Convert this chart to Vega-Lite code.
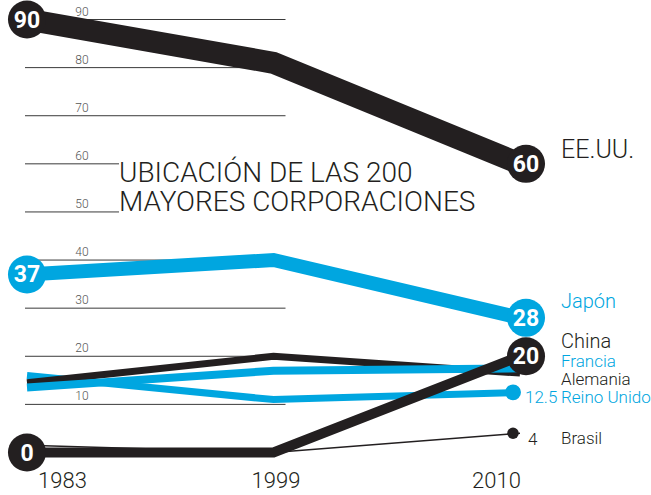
{
  "$schema": "https://vega.github.io/schema/vega-lite/v6.json",
  "width": 651,
  "height": 495,
  "autosize": {"type": "none"},
  "padding": 0,
  "background": "white",
  "config": {"view": {"stroke": null}, "font": "Roboto"},
  "title": {
    "text": ["UBICACIÓN DE LAS 200", "MAYORES CORPORACIONES"],
    "orient": "top",
    "anchor": "start",
    "frame": "group",
    "offset": 0,
    "dx": 119,
    "dy": 263,
    "baseline": "alphabetic",
    "lineHeight": 29,
    "font": "Roboto",
    "fontSize": 28,
    "fontWeight": 300,
    "color": "#231f20"
  },
  "datasets": {
    "series": [
      {"country": "Brasil", "year": 1983, "value": 1.5},
      {"country": "Brasil", "year": 1999, "value": 0},
      {"country": "Brasil", "year": 2010, "value": 4},
      {"country": "Reino Unido", "year": 1983, "value": 16},
      {"country": "Reino Unido", "year": 1999, "value": 11},
      {"country": "Reino Unido", "year": 2010, "value": 12.5},
      {"country": "Alemania", "year": 1983, "value": 14.5},
      {"country": "Alemania", "year": 1999, "value": 20},
      {"country": "Alemania", "year": 2010, "value": 16.5},
      {"country": "Francia", "year": 1983, "value": 13.5},
      {"country": "Francia", "year": 1999, "value": 17},
      {"country": "Francia", "year": 2010, "value": 17.5},
      {"country": "China", "year": 1983, "value": 0},
      {"country": "China", "year": 1999, "value": 0},
      {"country": "China", "year": 2010, "value": 20},
      {"country": "Japón", "year": 1983, "value": 37},
      {"country": "Japón", "year": 1999, "value": 40},
      {"country": "Japón", "year": 2010, "value": 28},
      {"country": "EE.UU.", "year": 1983, "value": 90},
      {"country": "EE.UU.", "year": 1999, "value": 81},
      {"country": "EE.UU.", "year": 2010, "value": 60}
    ],
    "grid": [
      {"v": 10}, {"v": 20}, {"v": 30}, {"v": 40}, {"v": 50},
      {"v": 60}, {"v": 70}, {"v": 80}, {"v": 90}
    ]
  },
  "layer": [
    {
      "data": {"name": "grid"},
      "transform": [{"filter": "datum.v != 50 && datum.v != 60"}],
      "mark": {"type": "rule", "color": "#3a3a3a", "strokeWidth": 1, "xOffset": -2, "x2Offset": 12},
      "encoding": {
        "x": {"datum": 1983, "type": "ordinal", "scale": {"type": "point", "range": [27, 520], "padding": 0},
          "axis": {"orient": "bottom", "domain": false, "ticks": false, "tickSize": 0, "grid": false, "title": null,
            "labelAngle": 0, "labelFont": "Roboto", "labelFontSize": 22, "labelFontWeight": 300, "labelColor": "#231f20",
            "labelBaseline": "alphabetic", "labelPadding": 0, "offset": -8,
            "labelOffset": {"expr": "datum.value == 1983 ? 35 : datum.value == 2010 ? -24 : 2"}}},
        "x2": {"datum": 1999},
        "y": {"field": "v", "type": "quantitative", "scale": {"domain": [0, 90], "range": [452.5, 19.5]}, "axis": null}
      }
    },
    {
      "data": {"name": "grid"},
      "transform": [{"filter": "datum.v == 50 || datum.v == 60"}],
      "mark": {"type": "rule", "color": "#3a3a3a", "strokeWidth": 1, "xOffset": -2, "x2Offset": 92},
      "encoding": {
        "x": {"datum": 1983, "type": "ordinal"},
        "x2": {"datum": 1983},
        "y": {"field": "v", "type": "quantitative", "scale": {"domain": [0, 90], "range": [452.5, 19.5]}, "axis": null}
      }
    },
    {
      "data": {"name": "grid"},
      "mark": {"type": "text", "align": "center", "baseline": "alphabetic", "dx": 55, "dy": -4, "fontSize": 12, "fontWeight": 300, "font": "Roboto", "color": "#555555"},
      "encoding": {
        "x": {"datum": 1983, "type": "ordinal"},
        "y": {"field": "v", "type": "quantitative", "scale": {"domain": [0, 90], "range": [452.5, 19.5]}, "axis": null},
        "text": {"field": "v", "type": "quantitative"}
      }
    },
    {
      "data": {"name": "series"},
      "transform": [{"filter": "datum.country == 'Brasil'"}],
      "mark": {"type": "line", "strokeJoin": "miter", "strokeCap": "butt", "strokeWidth": 1.5, "color": "#231f20"},
      "encoding": {
        "x": {"field": "year", "type": "ordinal"},
        "y": {"field": "value", "type": "quantitative", "scale": {"domain": [0, 90], "range": [452.5, 19.5]}, "axis": null}
      }
    },
    {
      "data": {"name": "series"},
      "transform": [{"filter": "datum.country == 'Reino Unido'"}],
      "mark": {"type": "line", "strokeJoin": "miter", "strokeCap": "butt", "strokeWidth": 7, "color": "#00a6e0"},
      "encoding": {
        "x": {"field": "year", "type": "ordinal"},
        "y": {"field": "value", "type": "quantitative", "scale": {"domain": [0, 90], "range": [452.5, 19.5]}, "axis": null}
      }
    },
    {
      "data": {"name": "series"},
      "transform": [{"filter": "datum.country == 'Alemania'"}],
      "mark": {"type": "line", "strokeJoin": "miter", "strokeCap": "butt", "strokeWidth": 7, "color": "#231f20"},
      "encoding": {
        "x": {"field": "year", "type": "ordinal"},
        "y": {"field": "value", "type": "quantitative", "scale": {"domain": [0, 90], "range": [452.5, 19.5]}, "axis": null}
      }
    },
    {
      "data": {"name": "series"},
      "transform": [{"filter": "datum.country == 'Francia'"}],
      "mark": {"type": "line", "strokeJoin": "miter", "strokeCap": "butt", "strokeWidth": 8, "color": "#00a6e0"},
      "encoding": {
        "x": {"field": "year", "type": "ordinal"},
        "y": {"field": "value", "type": "quantitative", "scale": {"domain": [0, 90], "range": [452.5, 19.5]}, "axis": null}
      }
    },
    {
      "data": {"name": "series"},
      "transform": [{"filter": "datum.country == 'China'"}],
      "mark": {"type": "line", "strokeJoin": "miter", "strokeCap": "butt", "strokeWidth": 10, "color": "#231f20"},
      "encoding": {
        "x": {"field": "year", "type": "ordinal"},
        "y": {"field": "value", "type": "quantitative", "scale": {"domain": [0, 90], "range": [452.5, 19.5]}, "axis": null}
      }
    },
    {
      "data": {"name": "series"},
      "transform": [{"filter": "datum.country == 'Japón'"}],
      "mark": {"type": "line", "strokeJoin": "miter", "strokeCap": "butt", "strokeWidth": 14, "color": "#00a6e0"},
      "encoding": {
        "x": {"field": "year", "type": "ordinal"},
        "y": {"field": "value", "type": "quantitative", "scale": {"domain": [0, 90], "range": [452.5, 19.5]}, "axis": null}
      }
    },
    {
      "data": {"name": "series"},
      "transform": [{"filter": "datum.country == 'EE.UU.'"}],
      "mark": {"type": "line", "strokeJoin": "miter", "strokeCap": "butt", "strokeWidth": 22, "color": "#231f20"},
      "encoding": {
        "x": {"field": "year", "type": "ordinal"},
        "y": {"field": "value", "type": "quantitative", "scale": {"domain": [0, 90], "range": [452.5, 19.5]}, "axis": null}
      }
    },
    {
      "data": {"name": "series"},
      "transform": [{"filter": "(datum.country == 'EE.UU.' || datum.country == 'Japón' || datum.country == 'China') && datum.year != 1999"}],
      "mark": {"type": "point", "filled": true, "opacity": 1, "size": 1450, "xOffset": {"expr": "datum.year == 2010 ? 6 : 0"}},
      "encoding": {
        "x": {"field": "year", "type": "ordinal"},
        "y": {"field": "value", "type": "quantitative", "scale": {"domain": [0, 90], "range": [452.5, 19.5]}, "axis": null},
        "color": {"field": "country", "type": "nominal", "legend": null,
          "scale": {"domain": ["Brasil", "Reino Unido", "Alemania", "Francia", "China", "Japón", "EE.UU."],
            "range": ["#231f20", "#00a6e0", "#231f20", "#00a6e0", "#231f20", "#00a6e0", "#231f20"]}}
      }
    },
    {
      "data": {"name": "series"},
      "transform": [{"filter": "(datum.country == 'EE.UU.' || datum.country == 'Japón' || datum.country == 'China') && datum.year != 1999"}],
      "mark": {"type": "text", "color": "white", "font": "Roboto", "fontWeight": 700, "fontSize": 23, "align": "center", "baseline": "middle", "dy": 1, "xOffset": {"expr": "datum.year == 2010 ? 6 : 0"}},
      "encoding": {
        "x": {"field": "year", "type": "ordinal"},
        "y": {"field": "value", "type": "quantitative", "scale": {"domain": [0, 90], "range": [452.5, 19.5]}, "axis": null},
        "text": {"field": "value", "type": "quantitative"}
      }
    },
    {
      "data": {"name": "series"},
      "transform": [{"filter": "(datum.country == 'Reino Unido' || datum.country == 'Brasil') && datum.year == 2010"}],
      "mark": {"type": "point", "filled": true, "opacity": 1, "xOffset": -7},
      "encoding": {
        "x": {"field": "year", "type": "ordinal"},
        "y": {"field": "value", "type": "quantitative", "scale": {"domain": [0, 90], "range": [452.5, 19.5]}, "axis": null},
        "color": {"field": "country", "type": "nominal", "legend": null},
        "size": {"field": "country", "type": "nominal", "legend": null, "scale": {"domain": ["Reino Unido", "Brasil"], "range": [254, 133]}}
      }
    },
    {
      "data": {"name": "series"},
      "transform": [{"filter": "(datum.country == 'Reino Unido' || datum.country == 'Brasil') && datum.year == 2010"}],
      "mark": {"type": "text", "font": "Roboto", "fontWeight": 300, "fontSize": 17, "align": "left", "baseline": "middle", "dx": {"expr": "datum.country == 'Brasil' ? 8 : 5"}, "dy": {"expr": "datum.country == 'Brasil' ? 7 : 6"}},
      "encoding": {
        "x": {"field": "year", "type": "ordinal"},
        "y": {"field": "value", "type": "quantitative", "scale": {"domain": [0, 90], "range": [452.5, 19.5]}, "axis": null},
        "color": {"field": "country", "type": "nominal", "legend": null},
        "text": {"field": "value", "type": "quantitative"}
      }
    },
    {
      "data": {"name": "series"},
      "transform": [{"filter": "datum.year == 2010"}],
      "mark": {"type": "text", "font": "Roboto", "fontWeight": 300, "align": "left", "baseline": "middle", "dx": 41,
        "fontSize": {"expr": "datum.country == 'EE.UU.' ? 25 : (datum.country == 'Japón' || datum.country == 'China') ? 20 : 17"},
        "dy": {"expr": "datum.country == 'EE.UU.' ? -14 : datum.country == 'Japón' ? -16 : datum.country == 'China' ? -14 : datum.country == 'Francia' ? -6 : datum.country == 'Alemania' ? 7 : 6"}},
      "encoding": {
        "x": {"field": "year", "type": "ordinal"},
        "y": {"field": "value", "type": "quantitative", "scale": {"domain": [0, 90], "range": [452.5, 19.5]}, "axis": null},
        "color": {"field": "country", "type": "nominal", "legend": null},
        "text": {"field": "country", "type": "nominal"}
      }
    }
  ]
}
